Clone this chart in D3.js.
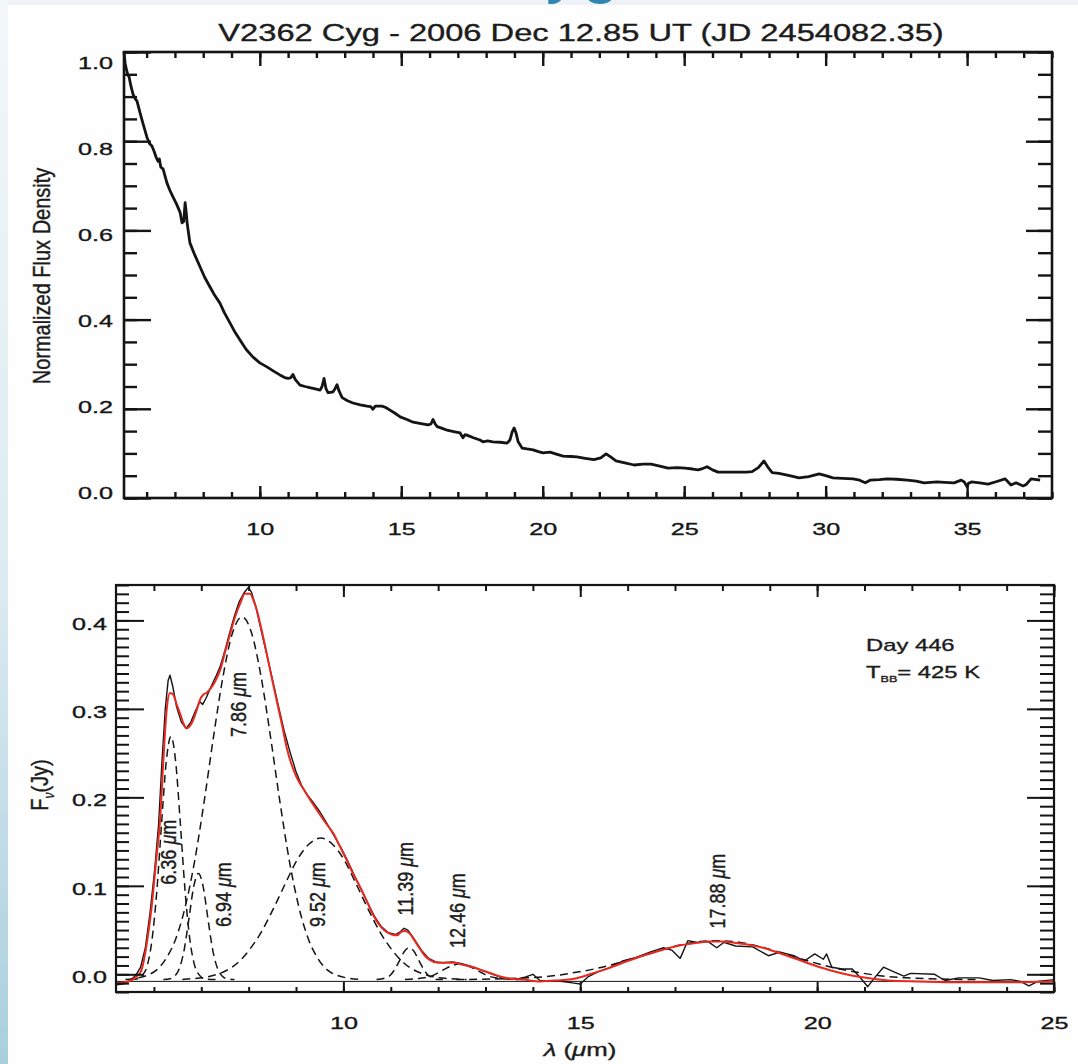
<!DOCTYPE html>
<html>
<head>
<meta charset="utf-8">
<script src="https://cdn.jsdelivr.net/npm/d3@7"></script>
<style>
  html, body { margin: 0; padding: 0; background: #fff; }
  svg { display: block; }
  text { font-family: "Liberation Sans", Arial, Helvetica, sans-serif; fill: #1c1c1c; stroke: #1c1c1c; stroke-width: 0.35px; }
</style>
</head>
<body>
<svg id="fig" width="1078" height="1064"></svg>
<script>
// ---------------- spectrum: V2362 Cyg, 2006 Dec 12.85 UT ----------------
const topTitle = "V2362 Cyg - 2006 Dec 12.85 UT (JD 2454082.35)";
const topYTitle = "Normalized Flux Density";
const topXTicks = [10, 15, 20, 25, 30, 35];
const topYTicks = [0.0, 0.2, 0.4, 0.6, 0.8, 1.0];

const topWave = [5.20,5.24,5.28,5.33,5.38,5.44,5.52,5.60,5.66,5.77,5.88,6.01,6.10,6.18,6.26,6.33,6.40,6.45,6.50,6.58,
  6.72,6.82,6.93,7.05,7.18,7.25,7.31,7.36,7.40,7.43,7.53,7.70,7.89,8.05,8.24,8.40,8.59,8.75,8.95,9.12,
  9.30,9.52,9.76,10.00,10.25,10.50,10.71,10.88,11.00,11.10,11.17,11.25,11.42,11.60,11.80,12.00,12.13,12.20,12.27,12.34,
  12.41,12.50,12.59,12.66,12.73,12.80,12.91,13.10,13.29,13.55,13.79,13.92,14.00,14.08,14.32,14.45,14.60,14.78,14.96,15.20,
  15.42,15.70,15.95,16.05,16.12,16.20,16.27,16.45,16.62,16.85,17.08,17.13,17.18,17.25,17.32,17.55,17.78,17.89,18.05,18.24,
  18.50,18.74,18.84,18.92,18.99,19.06,19.13,19.27,19.45,19.66,19.85,20.01,20.26,20.51,20.72,21.00,21.21,21.50,21.81,22.05,
  22.24,22.40,22.59,22.90,23.23,23.55,23.83,24.10,24.43,24.75,25.03,25.30,25.49,25.65,25.81,26.00,26.20,26.55,26.94,27.20,
  27.40,27.62,27.82,27.95,28.11,28.35,28.60,28.80,29.06,29.40,29.77,30.00,30.26,30.60,30.97,31.20,31.40,31.57,31.90,32.17,
  32.50,32.88,33.20,33.48,33.70,33.94,34.20,34.54,34.79,34.90,35.00,35.05,35.15,35.45,35.74,36.05,36.34,36.55,36.73,36.98,
  37.10,37.26,37.58];
const topFlux = [1.000,0.975,0.962,0.950,0.944,0.925,0.905,0.895,0.890,0.863,0.838,0.809,0.795,0.790,0.778,0.765,0.755,0.760,0.742,0.738,
  0.706,0.690,0.675,0.660,0.641,0.617,0.620,0.662,0.640,0.617,0.572,0.545,0.518,0.495,0.473,0.455,0.437,0.415,0.392,0.372,
  0.354,0.333,0.316,0.303,0.294,0.284,0.276,0.270,0.268,0.270,0.277,0.266,0.253,0.250,0.247,0.244,0.242,0.250,0.268,0.245,
  0.236,0.237,0.238,0.245,0.254,0.240,0.225,0.218,0.213,0.209,0.206,0.205,0.199,0.206,0.206,0.203,0.197,0.190,0.182,0.176,
  0.170,0.167,0.164,0.166,0.176,0.166,0.160,0.156,0.152,0.149,0.146,0.140,0.135,0.142,0.141,0.135,0.130,0.126,0.128,0.126,
  0.125,0.123,0.130,0.148,0.157,0.145,0.126,0.112,0.110,0.108,0.104,0.101,0.103,0.098,0.094,0.093,0.092,0.089,0.086,0.090,
  0.099,0.092,0.083,0.079,0.074,0.076,0.076,0.072,0.067,0.068,0.067,0.065,0.063,0.066,0.070,0.063,0.058,0.058,0.058,0.058,
  0.059,0.068,0.083,0.070,0.057,0.055,0.052,0.049,0.045,0.048,0.054,0.050,0.045,0.044,0.043,0.040,0.034,0.040,0.041,0.043,
  0.042,0.040,0.038,0.034,0.035,0.036,0.035,0.034,0.040,0.036,0.025,0.033,0.036,0.034,0.031,0.037,0.043,0.029,0.034,0.027,
  0.031,0.043,0.040];

// ---------------- dust fit: day 446 ----------------
const botXTicks = [10, 15, 20, 25];
const botYTicks = [0.0, 0.1, 0.2, 0.3, 0.4];
const dayText = "Day 446";
const tempText = "425 K";

const obsWave = [5.20,5.35,5.50,5.62,5.72,5.82,5.92,6.02,6.10,6.17,6.24,6.30,6.34,6.40,6.48,6.58,6.68,6.78,6.88,6.97,
  7.03,7.10,7.18,7.25,7.32,7.40,7.50,7.60,7.70,7.80,7.90,7.99,8.06,8.15,8.25,8.38,8.50,8.62,8.75,8.88,
  9.00,9.12,9.25,9.38,9.50,9.60,9.70,9.80,9.95,10.10,10.30,10.50,10.65,10.80,10.95,11.10,11.20,11.28,11.36,11.48,
  11.65,11.80,11.95,12.10,12.30,12.50,12.70,12.90,13.10,13.30,13.50,13.70,13.85,14.00,14.15,14.59,14.87,15.00,15.16,15.38,
  15.60,15.89,16.18,16.47,16.76,16.94,17.11,17.27,17.48,17.70,17.88,18.03,18.28,18.64,18.97,19.22,19.51,19.73,19.95,20.13,
  20.20,20.31,20.53,20.74,20.88,21.07,21.21,21.40,21.61,21.83,21.97,22.48,22.70,22.99,23.42,23.71,24.08,24.29,24.47,24.66,
  25.00];
const obsFlux = [-0.012,-0.011,-0.007,-0.001,0.008,0.030,0.070,0.120,0.170,0.240,0.300,0.332,0.338,0.325,0.302,0.285,0.278,0.285,0.298,0.308,
  0.305,0.312,0.322,0.330,0.338,0.348,0.366,0.386,0.405,0.421,0.431,0.437,0.432,0.416,0.392,0.362,0.334,0.305,0.275,0.250,
  0.229,0.213,0.202,0.193,0.184,0.175,0.166,0.157,0.143,0.127,0.104,0.082,0.066,0.054,0.047,0.045,0.048,0.052,0.050,0.041,
  0.027,0.018,0.014,0.013,0.014,0.012,0.009,0.005,0.001,-0.003,-0.005,-0.005,-0.003,0.000,-0.007,-0.008,-0.010,-0.011,-0.003,0.003,
  0.007,0.015,0.019,0.025,0.030,0.027,0.018,0.038,0.036,0.037,0.030,0.036,0.032,0.031,0.021,0.025,0.021,0.015,0.023,0.017,
  0.023,0.008,0.006,0.006,-0.002,-0.014,-0.004,0.008,0.003,-0.002,0.001,0.000,-0.007,-0.004,-0.004,-0.007,-0.006,-0.008,-0.013,-0.008,
  -0.006];

const fitWave = [5.20,5.40,5.55,5.65,5.74,5.85,5.95,6.05,6.13,6.20,6.27,6.34,6.41,6.48,6.55,6.62,6.69,6.80,6.90,6.97,
  7.04,7.11,7.18,7.25,7.33,7.40,7.50,7.61,7.72,7.82,7.92,8.03,8.10,8.17,8.27,8.38,8.48,8.59,8.70,8.80,
  8.90,9.01,9.15,9.30,9.45,9.60,9.79,9.93,10.07,10.20,10.35,10.50,10.63,10.77,10.91,11.02,11.13,11.22,11.30,11.40,
  11.48,11.60,11.72,11.83,12.00,12.18,12.35,12.50,12.74,12.95,13.17,13.35,13.52,13.80,14.15,14.50,14.87,15.20,15.60,16.00,
  16.32,16.70,17.05,17.40,17.77,18.00,18.21,18.50,18.86,19.20,19.58,19.95,20.31,20.70,21.03,21.50,22.12,23.00,24.00,25.00];
const fitFlux = [-0.010,-0.009,-0.006,-0.002,0.005,0.035,0.075,0.130,0.174,0.242,0.299,0.318,0.316,0.305,0.295,0.284,0.278,0.284,0.298,0.310,
  0.316,0.318,0.322,0.327,0.335,0.344,0.364,0.385,0.405,0.419,0.430,0.430,0.423,0.412,0.390,0.363,0.337,0.310,0.283,0.257,
  0.238,0.223,0.210,0.197,0.185,0.173,0.159,0.144,0.129,0.114,0.099,0.082,0.067,0.055,0.048,0.045,0.044,0.048,0.049,0.046,
  0.040,0.030,0.021,0.016,0.013,0.013,0.013,0.011,0.008,0.004,0.000,-0.003,-0.005,-0.006,-0.008,-0.007,-0.005,0.000,0.007,0.015,
  0.021,0.027,0.032,0.035,0.037,0.037,0.036,0.034,0.030,0.024,0.017,0.010,0.004,-0.001,-0.004,-0.007,-0.008,-0.009,-0.009,-0.008];

// individual emission components [wavelength, flux]
const band636 = [[5.50,-0.006],[5.66,-0.005],[5.76,-0.001],[5.86,0.010],[5.96,0.039],[6.06,0.093],[6.16,0.169],[6.26,0.240],[6.36,0.269],
  [6.46,0.240],[6.56,0.169],[6.66,0.093],[6.76,0.039],[6.86,0.010],[6.96,-0.001],[7.06,-0.005],[7.30,-0.006]];
const band694 = [[6.20,-0.006],[6.34,-0.005],[6.44,-0.002],[6.54,0.007],[6.64,0.028],[6.74,0.063],[6.84,0.099],[6.94,0.114],
  [7.04,0.099],[7.14,0.063],[7.24,0.028],[7.34,0.007],[7.44,-0.002],[7.54,-0.005],[7.70,-0.006]];
const band786 = [[5.40,-0.006],[5.66,-0.004],[5.86,-0.001],[6.06,0.005],[6.26,0.018],[6.46,0.040],[6.66,0.076],[6.86,0.128],[7.06,0.195],
  [7.26,0.269],[7.46,0.337],[7.66,0.386],[7.86,0.404],[8.06,0.386],[8.26,0.337],[8.46,0.269],[8.66,0.195],[8.86,0.128],[9.06,0.076],
  [9.26,0.040],[9.46,0.018],[9.66,0.005],[9.86,-0.001],[10.06,-0.004],[10.40,-0.006]];
const band952 = [[6.60,-0.006],[6.77,-0.005],[7.02,-0.004],[7.27,-0.001],[7.52,0.004],[7.77,0.013],[8.02,0.028],[8.27,0.048],[8.52,0.074],
  [8.77,0.102],[9.02,0.129],[9.27,0.147],[9.52,0.154],[9.77,0.147],[10.02,0.129],[10.27,0.102],[10.52,0.074],[10.77,0.048],[11.02,0.028],
  [11.27,0.013],[11.52,0.004],[11.77,-0.001],[12.02,-0.004],[12.27,-0.005],[12.60,-0.006]];
const band1139 = [[10.70,-0.006],[10.89,-0.004],[10.99,-0.001],[11.09,0.006],[11.19,0.016],[11.29,0.026],[11.39,0.030],[11.49,0.026],
  [11.59,0.016],[11.69,0.006],[11.79,-0.001],[11.89,-0.004],[11.99,-0.006],[12.10,-0.006]];
const band1246 = [[11.30,-0.006],[11.56,-0.005],[11.71,-0.004],[11.86,-0.002],[12.01,0.002],[12.16,0.0065],[12.31,0.010],[12.46,0.012],
  [12.61,0.010],[12.76,0.0065],[12.91,0.002],[13.06,-0.002],[13.21,-0.004],[13.36,-0.005],[13.70,-0.006]];
const band1788 = [[12.38,-0.006],[13.38,-0.005],[13.88,-0.004],[14.38,-0.002],[14.88,0.002],[15.38,0.007],[15.88,0.014],[16.38,0.022],
  [16.88,0.030],[17.38,0.036],[17.88,0.038],[18.38,0.036],[18.88,0.030],[19.38,0.022],[19.88,0.014],[20.38,0.007],[20.88,0.002],
  [21.38,-0.002],[21.88,-0.004],[22.38,-0.005],[23.38,-0.006]];
const bandNames = ["6.36", "6.94", "7.86", "9.52", "11.39", "12.46", "17.88"];
const baseLevel = -0.008;

// ---------------- drawing ----------------
const svg = d3.select("#fig");
const INK = "#141414";
const FONT = "Liberation Sans, Arial, Helvetica, sans-serif";

// slide backdrop: pale strip on top, tinted strip down the left edge
const defs = svg.append("defs");
const edge = defs.append("linearGradient").attr("id", "edge")
  .attr("x1", 0).attr("y1", 0).attr("x2", 0).attr("y2", 1);
edge.append("stop").attr("offset", "0%").attr("stop-color", "#f2f7fa");
edge.append("stop").attr("offset", "55%").attr("stop-color", "#dcebf1");
edge.append("stop").attr("offset", "100%").attr("stop-color", "#a9cfdd");
svg.append("rect").attr("width", 1078).attr("height", 1064).attr("fill", "#fefefe");
svg.append("rect").attr("width", 1078).attr("height", 5).attr("fill", "#eef1f6");
svg.append("rect").attr("width", 8).attr("height", 1064).attr("fill", "url(#edge)");
// lower edge of the slide heading peeking in at the top
svg.append("text").attr("x", 546).attr("y", -11)
  .attr("font-size", 70).style("fill", "#2f86b3").style("stroke", "none").text("yg");

// axis frame with inward major/minor ticks on all four sides
function frame(x, y, o) {
  const [x0, x1] = x.range();
  const [y0, y1] = y.range();
  const g = svg.append("g");
  const xd = x.domain(), yd = y.domain();
  const xMinor = d3.range(Math.ceil(xd[0]), xd[1] + 1e-6, o.xStep);
  const yMinor = d3.range(Math.ceil(yd[0] / o.yStep - 1e-6) * o.yStep, yd[1] + 1e-6, o.yStep);

  const put = (tr, axis) => g.append("g").attr("transform", tr).call(axis);
  put(`translate(0,${y0})`, d3.axisBottom(x).tickValues(xMinor).tickSize(-o.xMin[0]).tickFormat(""));
  put(`translate(0,${y1})`, d3.axisTop(x).tickValues(xMinor).tickSize(-o.xMin[1]).tickFormat(""));
  put(`translate(${x0},0)`, d3.axisLeft(y).tickValues(yMinor).tickSize(-o.yMin[0]).tickFormat(""));
  put(`translate(${x1},0)`, d3.axisRight(y).tickValues(yMinor).tickSize(-o.yMin[1]).tickFormat(""));
  put(`translate(0,${y1})`, d3.axisTop(x).tickValues(o.xTicks).tickSize(-o.xMaj[1]).tickFormat(""));
  put(`translate(${x1},0)`, d3.axisRight(y).tickValues(o.yTicks).tickSize(-o.yMaj[1]).tickFormat(""));

  const xb = put(`translate(0,${y0})`, d3.axisBottom(x).tickValues(o.xTicks).tickSize(-o.xMaj[0])
    .tickFormat(d3.format("d")));
  const yl = put(`translate(${x0},0)`, d3.axisLeft(y).tickValues(o.yTicks).tickSize(-o.yMaj[0])
    .tickFormat(d3.format(".1f")));

  g.selectAll(".domain").remove();
  g.selectAll(".tick line").attr("stroke", INK).attr("stroke-width", o.tickW);
  g.selectAll("g").attr("font-family", FONT).attr("font-size", o.labelSize);
  xb.selectAll(".tick text").attr("y", o.xLabelBase).attr("dy", 0)
    .attr("transform", `scale(${o.sx},1)`).style("fill", INK);
  yl.selectAll(".tick text").attr("x", -o.yLabelGap / o.sx).attr("dy", "0.36em")
    .attr("y", d => o.yShift(d))
    .attr("transform", `scale(${o.sx},1)`).style("fill", INK);

  g.append("rect").attr("x", x0).attr("y", y1).attr("width", x1 - x0).attr("height", y0 - y1)
    .attr("fill", "none").attr("stroke", INK).attr("stroke-width", o.frameW);
}

// rotated text built from runs; run = [text, italic?]
function rotated(cx, cy, runs, size, sx) {
  const t = svg.append("text")
    .attr("transform", `translate(${cx},${cy}) scale(${sx},1) rotate(-90)`)
    .attr("text-anchor", "middle").attr("dy", "0.35em").attr("font-size", size);
  runs.forEach(r => {
    const s = t.append("tspan").text(r[0]);
    if (r[1]) s.attr("font-style", "italic");
  });
  return t;
}

// ---- upper panel
const tx = d3.scaleLinear().domain([5.2, 38.0]).range([124, 1052]);
const ty = d3.scaleLinear().domain([0, 1]).range([498, 52]);

svg.append("text").attr("transform", "translate(581,41) scale(1.42,1)")
  .attr("text-anchor", "middle").attr("font-size", 23).text(topTitle);

frame(tx, ty, {
  xTicks: topXTicks, yTicks: topYTicks, xStep: 1, yStep: 0.05,
  xMaj: [12, 14], xMin: [6, 6], yMaj: [27, 26], yMin: [13, 14],
  tickW: 2.4, frameW: 2.6, labelSize: 17, sx: 1.48,
  xLabelBase: 37, yLabelGap: 11, yShift: v => -5.5 + 15.5 * v
});

const topLine = d3.line().x(i => tx(topWave[i])).y(i => ty(topFlux[i]));
svg.append("path").attr("d", topLine(d3.range(topWave.length)))
  .attr("fill", "none").attr("stroke", INK).attr("stroke-width", 2.8).attr("stroke-linejoin", "round");

rotated(42, 276, [[topYTitle]], 20, 1.2);

// ---- lower panel
const bx = d3.scaleLinear().domain([5.2, 25]).range([116, 1054]);
const by = d3.scaleLinear().domain([-0.02, 0.44]).range([992, 585]);

svg.append("clipPath").attr("id", "lowclip").append("rect")
  .attr("x", 116).attr("y", 585).attr("width", 938).attr("height", 407);
const plot = svg.append("g").attr("clip-path", "url(#lowclip)");

plot.append("line").attr("x1", bx(5.2)).attr("x2", bx(25)).attr("y1", by(baseLevel)).attr("y2", by(baseLevel))
  .attr("stroke", INK).attr("stroke-width", 1);

const bandLine = d3.line().x(d => bx(d[0])).y(d => by(d[1])).curve(d3.curveMonotoneX);
[band636, band694, band786, band952, band1139, band1246, band1788].forEach(b => {
  plot.append("path").attr("d", bandLine(b)).attr("fill", "none")
    .attr("stroke", "#151515").attr("stroke-width", 1.5).attr("stroke-dasharray", "8,5");
});

const obsLine = d3.line().x(i => bx(obsWave[i])).y(i => by(obsFlux[i]));
plot.append("path").attr("d", obsLine(d3.range(obsWave.length)))
  .attr("fill", "none").attr("stroke", INK).attr("stroke-width", 1.4).attr("stroke-linejoin", "round");

const fitLine = d3.line().x(i => bx(fitWave[i])).y(i => by(fitFlux[i])).curve(d3.curveMonotoneX);
plot.append("path").attr("d", fitLine(d3.range(fitWave.length)))
  .attr("fill", "none").attr("stroke", "#e8291f").attr("stroke-width", 2);

frame(bx, by, {
  xTicks: botXTicks, yTicks: botYTicks, xStep: 1, yStep: 0.01,
  xMaj: [10, 12], xMin: [5, 6], yMaj: [28, 27], yMin: [13, 14],
  tickW: 2, frameW: 2.2, labelSize: 17, sx: 1.48,
  xLabelBase: 37, yLabelGap: 9, yShift: () => 2.5
});

// band labels, placed in data units
const bandSpots = [[6.30, 0.138], [7.46, 0.090], [7.78, 0.305], [9.46, 0.090], [11.30, 0.108], [12.40, 0.072], [17.89, 0.094]];
bandNames.forEach((n, i) => {
  rotated(bx(bandSpots[i][0]), by(bandSpots[i][1]), [[n + " "], ["\u03bc", true], ["m"]], 18, 1.2);
});

// legend text
svg.append("text").attr("transform", "translate(866,651) scale(1.4,1)").attr("font-size", 17).text(dayText);
const leg2 = svg.append("text").attr("transform", "translate(866,678) scale(1.4,1)").attr("font-size", 17);
leg2.append("tspan").text("T");
leg2.append("tspan").attr("font-size", 9).attr("dy", 4).text("BB");
leg2.append("tspan").attr("dy", -4).text("= " + tempText);

// axis titles
const yT = svg.append("text").attr("transform", "translate(40,785) scale(1.2,1) rotate(-90)")
  .attr("text-anchor", "middle").attr("dy", "0.35em").attr("font-size", 20);
yT.append("tspan").text("F");
yT.append("tspan").attr("font-size", 12).attr("dy", 5).attr("font-style", "italic").text("\u03bd");
yT.append("tspan").attr("dy", -5).text("(Jy)");

const xT = svg.append("text").attr("transform", "translate(580,1056) scale(1.36,1)")
  .attr("text-anchor", "middle").attr("font-size", 19);
xT.append("tspan").attr("font-style", "italic").text("\u03bb");
xT.append("tspan").text(" (");
xT.append("tspan").attr("font-style", "italic").text("\u03bc");
xT.append("tspan").text("m)");
</script>
</body>
</html>
